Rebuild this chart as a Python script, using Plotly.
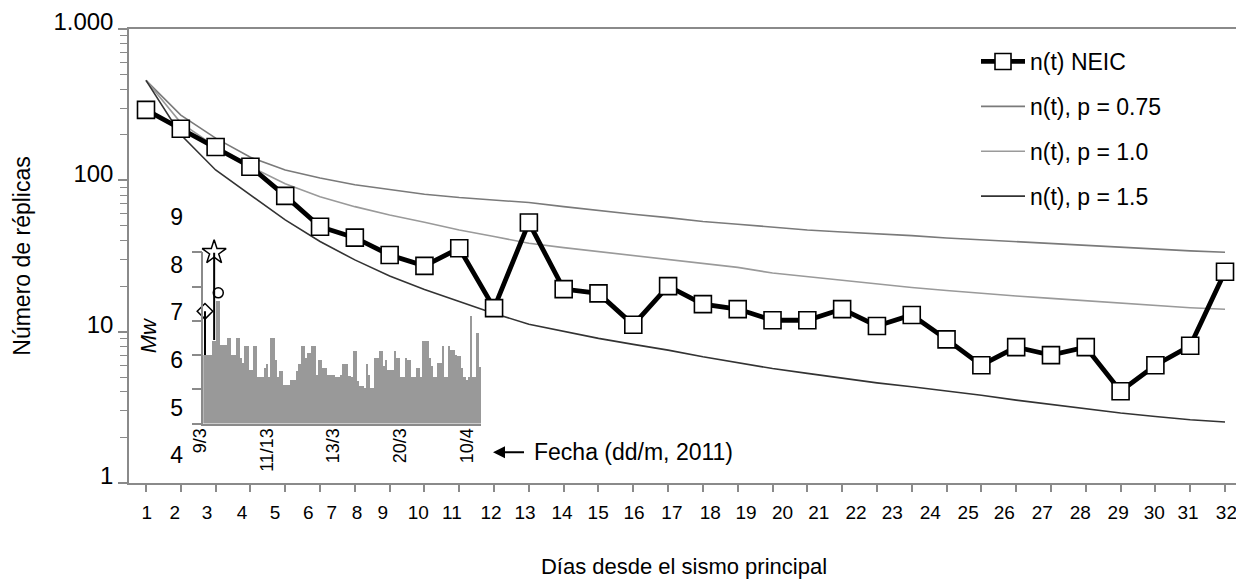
import plotly.graph_objects as go

FONT = "Liberation Sans, Arial, sans-serif"
GRAY = "#8a8a8a"

# ---------------- main chart data ----------------
days = list(range(1, 33))
day_labels = [str(d) for d in days]
# where the day numbers are printed in the original figure (they drift from the tick marks)
day_label_pos = [1.02, 1.83, 2.75, 3.76, 4.71, 5.66, 6.34, 7.06, 7.80, 8.82, 9.79,
                 10.91, 11.89, 12.95, 13.99, 15.02, 16.11, 17.21, 18.24, 19.29, 20.33,
                 21.40, 22.44, 23.53, 24.62, 25.66, 26.75, 27.84, 28.93, 29.97, 30.94, 32.04]

neic = [292, 219, 166, 123, 79, 49.4, 41.8, 32.1, 27.2, 35.6, 14.3, 52.6, 19.1, 17.9,
        11.1, 20.0, 15.2, 14.1, 11.9, 11.9, 14.1, 10.9, 12.9, 8.9, 6.0, 7.9, 7.0, 7.9,
        4.04, 6.0, 8.07, 24.9]
p075 = [458, 270, 190, 142, 117, 103.5, 93.4, 86.5, 81, 77, 74.3, 71.3, 67, 63, 59.7,
        56.7, 53.4, 51.3, 49, 47, 45.6, 44.5, 43.1, 41.6, 40.4, 39.4, 38.4, 37.2, 36.0,
        35.1, 34.2, 33.5]
p100 = [458, 240, 167, 123, 95, 78, 67, 59, 52.9, 47, 42.5, 38.4, 35.9, 33.8, 31.6,
        29.8, 28, 26.6, 24.4, 23.1, 21.8, 20.6, 19.6, 18.7, 17.9, 17.2, 16.6, 16, 15.4,
        14.8, 14.4, 14.05]
p150 = [458, 200, 117, 80, 54.8, 39.4, 29.8, 23.3, 19, 15.8, 13.2, 11.2, 10, 9.03, 8.24,
        7.55, 6.82, 6.22, 5.71, 5.3, 4.91, 4.59, 4.32, 4.06, 3.8, 3.53, 3.3, 3.1, 2.9,
        2.75, 2.62, 2.53]

y_tickvals = [1, 10, 100, 1000]
y_ticktext = ["1", "10", "100", "1.000"]
y_minor = [m * 10 ** e for e in range(3) for m in range(2, 10)]

# ---------------- inset data (Mw) ----------------
mw_bins = [6.0, 6.0, 6.0, 6.0, 6.4, 6.4, 7.56, 7.56, 6.29, 6.29, 6.29, 6.5, 6.5, 6.0, 6.0,
           6.5, 6.5, 5.9, 5.75, 6.26, 6.26, 5.56, 5.56, 6.26, 6.26, 5.36, 5.36, 5.36, 5.6,
           5.73, 5.36, 6.5, 6.5, 5.85, 5.36, 5.51, 5.51, 5.12, 5.12, 5.12, 5.25, 5.25, 5.25,
           5.51, 5.73, 6.26, 6.26, 5.9, 6.05, 6.05, 6.24, 6.24, 5.41, 5.85, 5.85, 5.6, 5.6,
           5.41, 5.41, 5.41, 5.41, 5.36, 5.36, 5.41, 5.73, 5.73, 5.73, 5.38, 5.36, 6.11, 6.11,
           5.22, 5.07, 5.07, 5.02, 5.73, 5.41, 5.02, 5.02, 5.9, 5.9, 6.11, 6.11, 5.68, 5.85,
           5.56, 5.56, 5.56, 6.11, 5.9, 5.9, 5.36, 5.36, 5.9, 5.85, 5.85, 5.36, 5.36, 5.6,
           5.6, 5.36, 6.41, 6.41, 6.41, 5.9, 5.66, 5.36, 5.36, 5.75, 5.75, 6.24, 5.36, 5.36,
           6.24, 6.14, 6.14, 6.0, 5.95, 5.95, 5.6, 5.36, 5.27, 5.36, 7.12, 5.36, 5.36, 6.63,
           5.63]
bin_idx = list(range(len(mw_bins)))
date_labels = ["9/3", "11/13", "13/3", "20/3", "10/4"]
date_pos = [0, 1, 2, 3, 4]
mw_tick = [4, 5, 6, 7, 8, 9]

# big events: foreshock, main shock, largest aftershock (bin position, Mw, stem base)
ev_x = [0.28, 4.5, 6.4]
ev_mw = [7.28, 9.0, 7.82]
ev_symbol = ["diamond-open", "star-open", "circle-open"]
ev_size = [12, 18, 10]
stem_base = [6.0, 6.44, None]

fig = go.Figure()

# Omori curves
for name, vals, col, rank in [("n(t), p = 0.75", p075, "#7a7a7a", 2),
                              ("n(t), p = 1.0", p100, "#9a9a9a", 3),
                              ("n(t), p = 1.5", p150, "#333333", 4)]:
    fig.add_trace(go.Scatter(x=days, y=vals, mode="lines", name=name,
                             line=dict(color=col, width=1.6),
                             legendgroup=name, legendrank=rank))

fig.add_trace(go.Scatter(x=days, y=neic, mode="lines+markers", name="n(t) NEIC",
                         line=dict(color="black", width=4.8),
                         marker=dict(symbol="square", size=17, color="white",
                                     line=dict(color="black", width=1.6)),
                         legendgroup="neic", legendrank=1))

# inset bars
fig.add_trace(go.Bar(x=bin_idx, y=mw_bins, xaxis="x2", yaxis="y2", marker_color="#999999",
                     marker_line_width=0, showlegend=False, hoverinfo="skip"))
# stems
for xv, top, base in zip(ev_x, ev_mw, stem_base):
    if base is not None:
        fig.add_trace(go.Scatter(x=[xv, xv], y=[base, top], mode="lines", xaxis="x2",
                                 yaxis="y2", line=dict(color="black", width=2),
                                 showlegend=False, hoverinfo="skip", cliponaxis=False))
for xv, top, sym, sz in zip(ev_x, ev_mw, ev_symbol, ev_size):
    fig.add_trace(go.Scatter(x=[xv], y=[top], mode="markers", xaxis="x2", yaxis="y2",
                             marker=dict(symbol=sym, size=sz, color="black",
                                         line=dict(width=1.5, color="black")),
                             showlegend=False, hoverinfo="skip", cliponaxis=False))
# label-only axes of the inset
fig.add_trace(go.Scatter(x=[None], y=[None], xaxis="x3", yaxis="y2", showlegend=False))
fig.add_trace(go.Scatter(x=[None], y=[None], xaxis="x3", yaxis="y3", showlegend=False))

# the page body adds an 8 px margin, positions below are given in window pixels
OFF = 8
W, H = 1244 - OFF, 579 - OFF
PLOT_L, PLOT_R, PLOT_T, PLOT_B = 129, 1239, 29, 482.7   # window pixels
L, T = PLOT_L - OFF, PLOT_T - OFF
R = W - (PLOT_R - OFF)
B = H - (PLOT_B - OFF)
pw, ph = PLOT_R - PLOT_L, PLOT_B - PLOT_T


def px_x(p):
    return (p - PLOT_L) / pw


def px_y(p):
    return (PLOT_B - p) / ph


fig.update_layout(
    width=W, height=H, autosize=False,
    margin=dict(l=L, r=R, t=T, b=B, autoexpand=False),
    paper_bgcolor="white", plot_bgcolor="rgba(0,0,0,0)",
    font=dict(family=FONT, color="black", size=20),
    bargap=0,
    showlegend=True,
    legend=dict(x=px_x(976), y=px_y(40), xanchor="left", yanchor="top",
                bgcolor="rgba(0,0,0,0)", font=dict(size=23, family=FONT),
                traceorder="grouped", tracegroupgap=12, itemwidth=44),
    xaxis=dict(domain=[0, 1], range=[0.5115, 32.402], tickmode="array",
               tickvals=day_label_pos, ticktext=day_labels, ticks="",
               ticklabelstandoff=11, tickfont=dict(size=19), automargin=False,
               showline=True, linecolor=GRAY, linewidth=1.5, mirror=True,
               showgrid=False, zeroline=False,
               minor=dict(tickmode="array", tickvals=days, ticks="outside", ticklen=7,
                          tickcolor=GRAY, tickwidth=1.5),
               title=dict(text="Días desde el sismo principal", font=dict(size=22),
                          standoff=38)),
    yaxis=dict(domain=[0, 1], type="log", range=[0, 3], tickmode="array",
               tickvals=y_tickvals, ticktext=y_ticktext, ticks="outside", ticklen=9,
               tickcolor=GRAY, tickwidth=1.5, tickfont=dict(size=24),
               ticklabelshift=-7, automargin=False,
               showline=True, linecolor=GRAY, linewidth=1.5, mirror=True,
               showgrid=False, zeroline=False,
               minor=dict(tickmode="array", tickvals=y_minor, ticks="outside", ticklen=7,
                          tickcolor=GRAY, tickwidth=1.2),
               title=dict(text="Número de réplicas", font=dict(size=23), standoff=16)),
    xaxis2=dict(domain=[px_x(203.3), px_x(481)], anchor="y2", range=[-0.5, 127.5],
                showline=True, linecolor=GRAY, linewidth=1.5, showticklabels=False,
                ticks="", showgrid=False, zeroline=False, automargin=False),
    yaxis2=dict(domain=[px_y(423.3), px_y(252.3)], anchor="x2", range=[4, 9],
                tickmode="array", tickvals=mw_tick, ticks="outside", ticklen=10,
                tickcolor=GRAY, tickwidth=1.5, showticklabels=False, showline=True,
                linecolor=GRAY, linewidth=1.5, showgrid=False, zeroline=False,
                automargin=False),
    xaxis3=dict(domain=[px_x(190), px_x(480)], anchor="y2", range=[-0.15, 4.195],
                tickmode="array", tickvals=date_pos, ticktext=date_labels, tickangle=-90,
                ticks="", showline=False, showgrid=False, zeroline=False,
                tickfont=dict(size=18), automargin=False),
    yaxis3=dict(domain=[px_y(455), px_y(217)], anchor="free", position=px_x(183),
                range=[4, 9], tickmode="array", tickvals=mw_tick, ticks="",
                showline=False, showgrid=False, zeroline=False, tickfont=dict(size=23),
                automargin=False,
                title=dict(text="<i>Mw</i>", font=dict(size=22), standoff=6)),
    annotations=[dict(x=10.97, y=0.203, xref="x", yref="y", text="Fecha (dd/m, 2011)",
                      showarrow=True, axref="pixel", ayref="pixel", ax=140, ay=0,
                      arrowhead=2, arrowsize=1.2, arrowwidth=2, arrowcolor="black",
                      startstandoff=8, font=dict(size=23, color="black"))],
)

fig.write_html("out.html")
